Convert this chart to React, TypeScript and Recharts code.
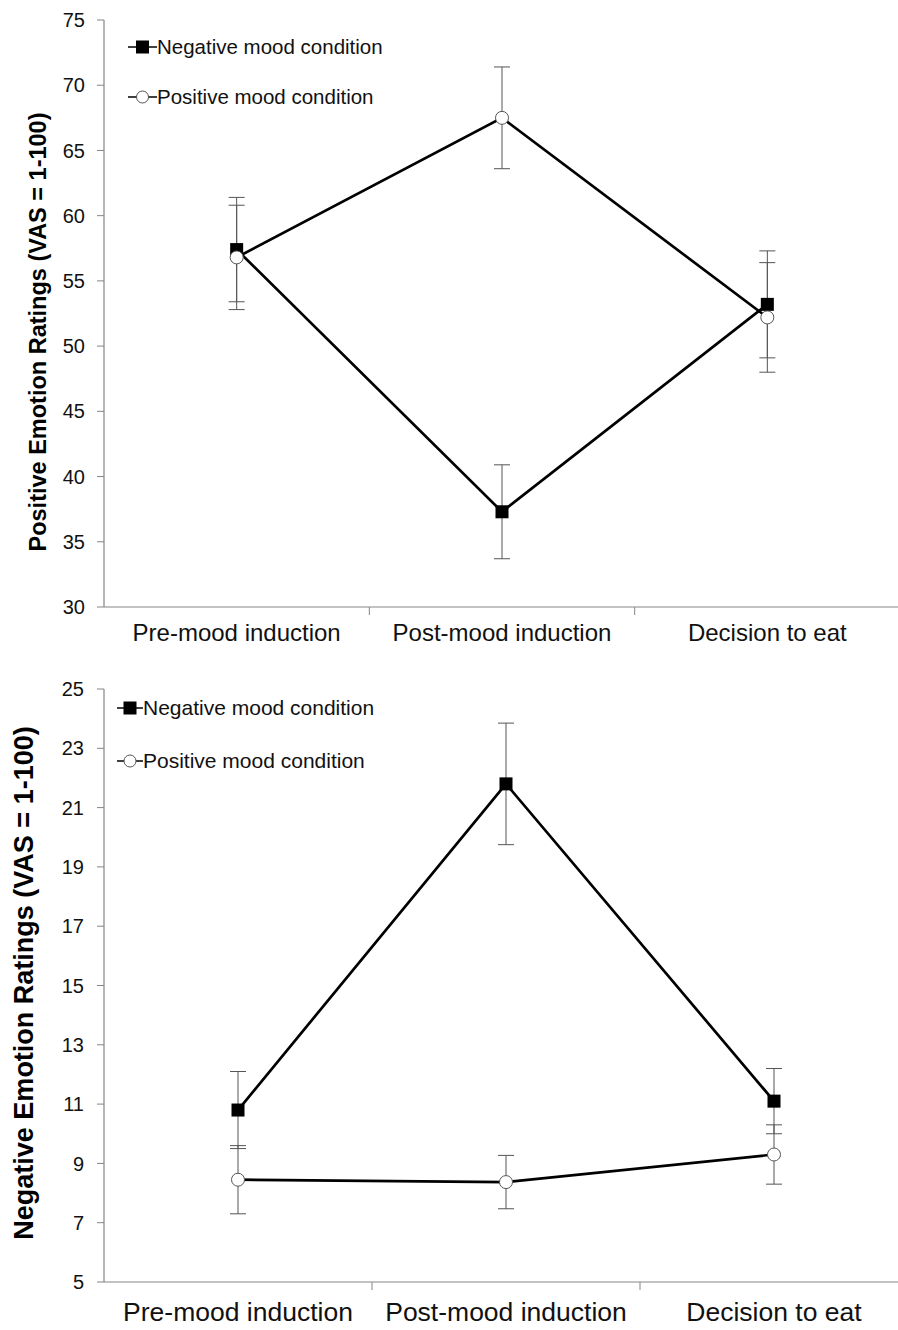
import { LineChart, Line, XAxis, YAxis, ErrorBar, Legend } from 'recharts'

const phases = ['Pre-mood induction', 'Post-mood induction', 'Decision to eat']

// positive emotion ratings
const posEmoNeg = [57.4, 37.3, 53.2]
const posEmoNegErr = [4.0, 3.6, 4.1]
const posEmoPos = [56.8, 67.5, 52.2]
const posEmoPosErr = [4.0, 3.9, 4.2]
const posTicks = [30, 35, 40, 45, 50, 55, 60, 65, 70, 75]

// negative emotion ratings
const negEmoNeg = [10.8, 21.8, 11.1]
const negEmoNegErr = [1.3, 2.05, 1.1]
const negEmoPos = [8.45, 8.37, 9.3]
const negEmoPosErr = [1.15, 0.9, 1.0]
const negTicks = [5, 7, 9, 11, 13, 15, 17, 19, 21, 23, 25]

const seriesNames = { neg: 'Negative mood condition', pos: 'Positive mood condition' }

const FONT = '"Liberation Sans", Arial, sans-serif'
const AXIS = '#858585'
const W = 898
const Y_AXIS_W = 104

const buildData = (neg: number[], negErr: number[], pos: number[], posErr: number[]) =>
  phases.map((phase, i) => ({ phase, neg: neg[i], negErr: negErr[i], pos: pos[i], posErr: posErr[i] }))

const posData = buildData(posEmoNeg, posEmoNegErr, posEmoPos, posEmoPosErr)
const negData = buildData(negEmoNeg, negEmoNegErr, negEmoPos, negEmoPosErr)

const SquareDot = (props: any) => {
  const { cx, cy, index } = props
  if (cx == null || cy == null) return <g key={`sq-${index}`} />
  return <rect key={`sq-${index}`} x={cx - 6.5} y={cy - 6.5} width={13} height={13} fill="#000" />
}

const CatTick = (props: any) => {
  const { x, y, payload, index, band, fontSize, dy } = props
  return (
    <g>
      <text x={x} y={y + dy} textAnchor="middle" fontSize={fontSize} fill="#111" fontFamily={FONT}>
        {payload.value}
      </text>
      {index < 2 && <line x1={x + band / 2} x2={x + band / 2} y1={y} y2={y + 8} stroke={AXIS} strokeWidth={1} />}
    </g>
  )
}

const AxisTitle = (props: any) => {
  const { titleX, titleY, text, size } = props
  return (
    <text
      x={titleX}
      y={titleY}
      transform={`rotate(-90 ${titleX} ${titleY})`}
      textAnchor="middle"
      dominantBaseline="middle"
      fontSize={size}
      fontWeight="bold"
      fontFamily={FONT}
      fill="#000"
    >
      {text}
    </text>
  )
}

const LegendMarker = ({ kind, w }: { kind: string; w: number }) => (
  <svg width={w} height={16}>
    <line x1={0} x2={w} y1={8} y2={8} stroke="#000" strokeWidth={1.5} />
    {kind === 'neg' ? (
      <rect x={w / 2 - 6.5} y={1.5} width={13} height={13} fill="#000" />
    ) : (
      <circle cx={w / 2} cy={8} r={6} fill="#fff" stroke="#555" strokeWidth={1} />
    )}
  </svg>
)

const LegendBox = (props: any) => {
  const { payload, rowH, fontSize, markW } = props
  return (
    <div style={{ fontFamily: FONT, fontSize, color: '#111' }}>
      {(payload || []).map((p: any) => (
        <div key={p.dataKey} style={{ height: rowH, display: 'flex', alignItems: 'center' }}>
          <LegendMarker kind={p.dataKey} w={markW} />
          <span>{p.value}</span>
        </div>
      ))}
    </div>
  )
}

interface PanelProps {
  data: any[]
  height: number
  top: number
  marginTop: number
  marginRight: number
  xAxisH: number
  domain: [number, number]
  ticks: number[]
  tickGap: number
  title: string
  titleX: number
  titleY: number
  titleSize: number
  catFont: number
  catDy: number
  legendLeft: number
  legendTop: number
  legendRow: number
  legendFont: number
  markW: number
}

function Panel(p: PanelProps) {
  const plotW = W - Y_AXIS_W - p.marginRight
  const band = plotW / 3
  return (
    <div style={{ position: 'absolute', left: 0, top: p.top }}>
      <LineChart
        width={W}
        height={p.height}
        data={p.data}
        margin={{ top: p.marginTop, right: p.marginRight, bottom: 0, left: 0 }}
        style={{ fontFamily: FONT }}
      >
        <XAxis
          dataKey="phase"
          height={p.xAxisH}
          padding={{ left: band / 2, right: band / 2 }}
          interval={0}
          tickLine={false}
          tickSize={0}
          tickMargin={0}
          axisLine={{ stroke: AXIS, strokeWidth: 1.2 }}
          tick={<CatTick band={band} fontSize={p.catFont} dy={p.catDy} />}
        />
        <YAxis
          width={Y_AXIS_W}
          domain={p.domain}
          ticks={p.ticks}
          interval={0}
          tickSize={7}
          tickMargin={p.tickGap}
          axisLine={{ stroke: AXIS, strokeWidth: 1.2 }}
          tickLine={{ stroke: AXIS }}
          tick={{ fill: '#111', fontSize: 20, fontFamily: FONT }}
          label={<AxisTitle titleX={p.titleX} titleY={p.titleY} text={p.title} size={p.titleSize} />}
        />
        <Legend
          layout="vertical"
          align="center"
          verticalAlign="middle"
          wrapperStyle={{ left: p.legendLeft, top: p.legendTop, width: 340 }}
          content={<LegendBox rowH={p.legendRow} fontSize={p.legendFont} markW={p.markW} />}
        />
        <Line
          name={seriesNames.neg}
          dataKey="neg"
          type="linear"
          stroke="#000"
          strokeWidth={2.7}
          dot={SquareDot}
          activeDot={false}
          isAnimationActive={false}
        >
          <ErrorBar dataKey="negErr" width={8} stroke="#555" strokeWidth={1} direction="y" isAnimationActive={false} />
        </Line>
        <Line
          name={seriesNames.pos}
          dataKey="pos"
          type="linear"
          stroke="#000"
          strokeWidth={2.7}
          dot={{ r: 6.5, fill: '#fff', stroke: '#555', strokeWidth: 1 }}
          activeDot={false}
          isAnimationActive={false}
        >
          <ErrorBar dataKey="posErr" width={8} stroke="#555" strokeWidth={1} direction="y" isAnimationActive={false} />
        </Line>
      </LineChart>
    </div>
  )
}

export default function App() {
  return (
    <div style={{ position: 'absolute', left: 0, top: 0, width: W, height: 1330, background: '#fff' }}>
      <Panel
        data={posData}
        height={660}
        top={0}
        marginTop={20}
        marginRight={-2}
        xAxisH={53}
        domain={[30, 75]}
        ticks={posTicks}
        tickGap={12}
        title="Positive Emotion Ratings (VAS = 1-100)"
        titleX={40}
        titleY={332}
        titleSize={23.5}
        catFont={24}
        catDy={34}
        legendLeft={128}
        legendTop={22}
        legendRow={50}
        legendFont={20.5}
        markW={29}
      />
      <Panel
        data={negData}
        height={660}
        top={670}
        marginTop={19}
        marginRight={-10}
        xAxisH={48}
        domain={[5, 25]}
        ticks={negTicks}
        tickGap={13}
        title="Negative Emotion Ratings (VAS = 1-100)"
        titleX={26}
        titleY={313}
        titleSize={27}
        catFont={26.5}
        catDy={39}
        legendLeft={117}
        legendTop={11}
        legendRow={53}
        legendFont={21}
        markW={26}
      />
    </div>
  )
}
